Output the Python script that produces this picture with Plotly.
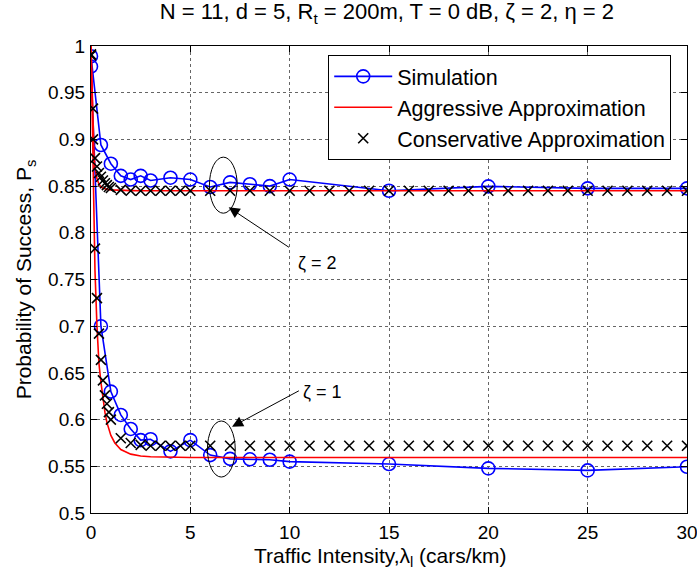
import plotly.graph_objects as go

# ---------------- data ----------------
sim_x = [0, 0.5, 1, 1.5, 2, 2.5, 3, 4, 5, 6, 7, 8, 9, 10, 15, 20, 25, 30]
sim_z2 = [0.989, 0.894, 0.874, 0.861, 0.857, 0.861, 0.856, 0.859, 0.857, 0.849,
          0.854, 0.852, 0.850, 0.857, 0.845, 0.8497, 0.8476, 0.8476]
sim_z1 = [0.978, 0.700, 0.630, 0.605, 0.590, 0.578, 0.579, 0.566, 0.578, 0.562,
          0.558, 0.5575, 0.557, 0.555, 0.5524, 0.5478, 0.5456, 0.5495]

agg_x = [0, 0.05, 0.1, 0.15, 0.2, 0.3, 0.4, 0.5, 0.6, 0.7, 0.8, 1.0, 1.2, 1.5,
         2, 2.5, 3, 4, 5, 10, 20, 30]
agg_z2 = [1.0, 0.95, 0.91, 0.885, 0.87, 0.858, 0.852, 0.849, 0.848, 0.847, 0.8465,
          0.846, 0.8457, 0.8455, 0.8452, 0.845, 0.845, 0.845, 0.845, 0.845, 0.845, 0.845]
agg_z1 = [1.0, 0.93, 0.86, 0.80, 0.76, 0.70, 0.66, 0.64, 0.622, 0.608, 0.597,
          0.583, 0.575, 0.568, 0.563, 0.561, 0.5602, 0.5598, 0.5595, 0.5595, 0.5595, 0.5595]

con_x = [0, 0.1, 0.2, 0.3, 0.4, 0.5, 0.6, 0.7, 0.8, 0.9, 1.0, 1.5, 2, 2.5, 3, 3.5,
         4, 4.5, 5, 6, 7, 8, 9, 10, 11, 12, 13, 14, 15, 16, 17, 18, 19, 20,
         21, 22, 23, 24, 25, 26, 27, 28, 29, 30]
con_z2 = [0.991, 0.90, 0.88, 0.871, 0.864, 0.86, 0.856, 0.853, 0.851, 0.849, 0.848,
          0.846] + [0.845] * 32
con_z1 = [0.99, 0.933, 0.783, 0.730, 0.692, 0.664, 0.642, 0.626, 0.617, 0.608, 0.600,
          0.580, 0.575, 0.573] + [0.572] * 30

x_ticks = [0, 5, 10, 15, 20, 25, 30]
y_ticks = [0.5, 0.55, 0.6, 0.65, 0.7, 0.75, 0.8, 0.85, 0.9, 0.95, 1]
y_tick_text = ["0.5", "0.55", "0.6", "0.65", "0.7", "0.75", "0.8", "0.85", "0.9", "0.95", "1"]

FONT = "Liberation Sans, Arial, sans-serif"
BLUE = "#0000ff"
RED = "#ff0000"
LABEL_SIZE = 21

fig = go.Figure()

# Simulation (blue line with circles)
cm = dict(symbol="circle-open", size=13, color=BLUE, line=dict(color=BLUE, width=1.6))
fig.add_trace(go.Scatter(x=sim_x, y=sim_z2, mode="lines+markers", marker=cm,
                         line=dict(color=BLUE, width=1.6), name="Simulation"))
fig.add_trace(go.Scatter(x=sim_x, y=sim_z1, mode="lines+markers", marker=cm,
                         line=dict(color=BLUE, width=1.6), showlegend=False))

# Aggressive approximation (red lines)
fig.add_trace(go.Scatter(x=agg_x, y=agg_z2, mode="lines", line=dict(color=RED, width=1.6),
                         name="Aggressive Approximation"))
fig.add_trace(go.Scatter(x=agg_x, y=agg_z1, mode="lines", line=dict(color=RED, width=1.6),
                         showlegend=False))

# Conservative approximation (black crosses)
xm = dict(symbol="x-thin-open", size=10, color="black", line=dict(color="black", width=1.6))
fig.add_trace(go.Scatter(x=con_x, y=con_z2, mode="markers", marker=xm,
                         name="Conservative Approximation"))
fig.add_trace(go.Scatter(x=con_x, y=con_z1, mode="markers", marker=xm, showlegend=False))

# ellipses
fig.add_shape(type="circle", xref="x", yref="y", x0=5.96, x1=7.36, y0=0.821, y1=0.881,
              line=dict(color="black", width=1))
fig.add_shape(type="circle", xref="x", yref="y", x0=5.86, x1=7.26, y0=0.5385, y1=0.5985,
              line=dict(color="black", width=1))

# arrows + labels
fig.add_annotation(x=6.93, y=0.8273, ax=10.04, ay=0.7834, xref="x", yref="y",
                   axref="x", ayref="y", text="", showarrow=True, arrowhead=2,
                   arrowsize=2.2, arrowwidth=1, arrowcolor="black")
fig.add_annotation(x=7.10, y=0.5924, ax=10.54, ay=0.6317, xref="x", yref="y",
                   axref="x", ayref="y", text="", showarrow=True, arrowhead=2,
                   arrowsize=2.2, arrowwidth=1, arrowcolor="black")
fig.add_annotation(x=10.3, y=0.7673, xref="x", yref="y", text="ζ = 2", showarrow=False,
                   xanchor="left", font=dict(family=FONT, size=18, color="black"))
fig.add_annotation(x=10.55, y=0.6299, xref="x", yref="y", text="ζ = 1", showarrow=False,
                   xanchor="left", font=dict(family=FONT, size=18, color="black"))

# x-axis title (as annotation so it can sit slightly left of the plot centre, as in the original)
fig.add_annotation(x=0.485, y=-0.062, xref="paper", yref="paper", xanchor="center",
                   yanchor="top", showarrow=False,
                   text="Traffic Intensity,λ<sub>l</sub> (cars/km)",
                   font=dict(family=FONT, size=LABEL_SIZE, color="black"))

axis_common = dict(showline=True, linecolor="black", linewidth=1.3, mirror="ticks",
                   ticks="inside", ticklen=6, tickcolor="black",
                   showgrid=True, gridcolor="#666666", griddash="dot", gridwidth=1,
                   zeroline=False, ticklabeloverflow="allow", automargin=False,
                   tickfont=dict(family=FONT, size=19, color="black"))

fig.update_xaxes(range=[0, 30], tickvals=x_ticks, ticklabelstandoff=2, **axis_common)
fig.update_yaxes(range=[0.5, 1], tickvals=y_ticks, ticktext=y_tick_text, ticklabelstandoff=1,
                 title=dict(text="Probability of Success, P<sub>s</sub>",
                            font=dict(family=FONT, size=LABEL_SIZE, color="black"), standoff=10),
                 **axis_common)

fig.update_layout(
    width=697, height=573,
    margin=dict(l=91, r=10, t=46, b=60, autoexpand=False),
    paper_bgcolor="white", plot_bgcolor="white",
    title=dict(text="N = 11, d = 5, R<sub>t</sub> = 200m, T = 0 dB, ζ = 2, η = 2",
               x=0.555, xanchor="center", y=0.993, yanchor="top",
               font=dict(family=FONT, size=22, color="black")),
    legend=dict(x=0.398, y=0.981, xanchor="left", yanchor="top",
                bgcolor="white", bordercolor="black", borderwidth=1,
                font=dict(family=FONT, size=21.5, color="black"),
                itemwidth=58, tracegroupgap=0),
    showlegend=True,
)

fig.write_html("out.html")
